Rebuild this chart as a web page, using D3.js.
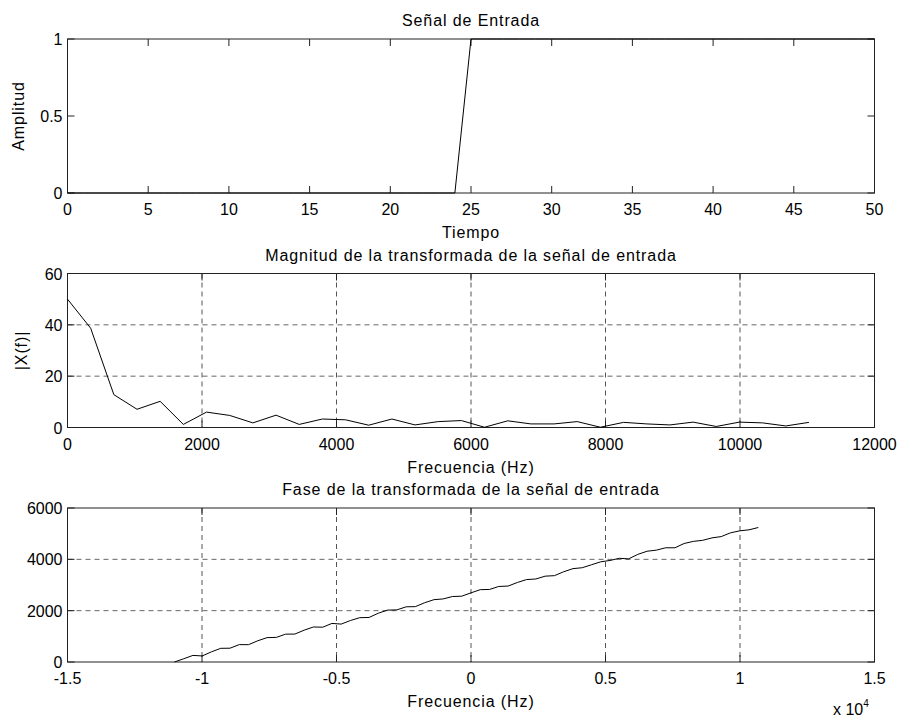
<!DOCTYPE html>
<html><head><meta charset="utf-8">
<script src="https://cdn.jsdelivr.net/npm/d3@7/dist/d3.min.js"></script>
<style>body{margin:0;background:#fff}svg{display:block}text{font-family:"Liberation Sans",Arial,sans-serif;fill:#000}</style>
</head><body><svg id="c" width="902" height="717"></svg>
<script>
// ---- data ----
const tiempo = d3.range(0, 51);
const senal = [0,0,0,0,0,0,0,0,0,0,0,0,0,0,0,0,0,0,0,0,0,0,0,0,0,
  1,1,1,1,1,1,1,1,1,1,1,1,1,1,1,1,1,1,1,1,1,1,1,1,1,1];
const fs = 22050, N = 64;
const freqMag = d3.range(0, N/2 + 1).map(i => i * fs / N);
const magnitud = [50,38.7,12.8,7.1,10.2,1.2,6.0,4.7,1.8,4.8,1.2,3.3,3.0,0.9,3.3,1.0,2.3,2.7,0.1,2.6,1.4,1.4,2.3,0.1,2.0,1.4,1.0,2.1,0.4,2.1,1.8,0.6,2.0];
const freqFase = d3.range(0, N).map(i => -fs/2 + i * fs / N);
const fase = [0,126,257,235,397,533,538,678,675,828,950,959,1085,1089,1241,1364,1356,1503,1477,1618,1727,1735,1901,2022,2030,
  2150,2158,2309,2428,2458,2551,2564,2694,2818,2826,2943,2958,3097,3212,3234,3344,3364,3516,3638,3673,3788,3904,
  3956,4040,4018,4193,4316,4358,4450,4450,4618,4700,4741,4835,4886,5033,5110,5150,5240];

const ticks1x = d3.range(0, 51, 5), ticks1y = [0, 0.5, 1];
const ticks2x = d3.range(0, 12001, 2000), ticks2y = [0, 20, 40, 60];
const ticks3x = [-1.5e4,-1e4,-0.5e4,0,0.5e4,1e4,1.5e4], ticks3y = [0,2000,4000,6000];

// ---- layout ----
const svg = d3.select("#c");
const L = 67.5, R = 874.5, H = 154;
const FS = 16, LS = "0.9px";

function panel(o) {
  const g = svg.append("g");
  const x = d3.scaleLinear().domain(o.xd).range([L, R]);
  const y = d3.scaleLinear().domain(o.yd).range([o.top + H, o.top]);
  const B = o.top + H, T = o.top;
  if (o.grid) {
    g.selectAll(null).data(o.xt.slice(1, -1)).join("line")
      .attr("x1", d => x(d)).attr("x2", d => x(d)).attr("y1", T).attr("y2", B)
      .attr("stroke", "#555").attr("stroke-dasharray", "5,4");
    g.selectAll(null).data(o.yt.slice(1, -1)).join("line")
      .attr("y1", d => y(d)).attr("y2", d => y(d)).attr("x1", L).attr("x2", R)
      .attr("stroke", "#666").attr("stroke-dasharray", "5,4");
  }
  const tl = 7;
  const xt = g.append("g");
  o.xt.forEach(d => {
    xt.append("line").attr("x1", x(d)).attr("x2", x(d)).attr("y1", B).attr("y2", B - tl).attr("stroke", "#222");
    xt.append("line").attr("x1", x(d)).attr("x2", x(d)).attr("y1", T).attr("y2", T + tl).attr("stroke", "#222");
  });
  o.yt.forEach(d => {
    xt.append("line").attr("y1", y(d)).attr("y2", y(d)).attr("x1", L).attr("x2", L + tl).attr("stroke", "#222");
    xt.append("line").attr("y1", y(d)).attr("y2", y(d)).attr("x1", R).attr("x2", R - tl).attr("stroke", "#222");
  });
  g.append("rect").attr("x", L).attr("y", T).attr("width", R - L).attr("height", H)
    .attr("fill", "none").attr("stroke", "#222");
  g.append("path").datum(o.xs.map((v, i) => [v, o.ys[i]]))
    .attr("fill", "none").attr("stroke", "#000").attr("stroke-width", 1)
    .attr("d", d3.line().x(d => x(d[0])).y(d => y(d[1])));
  g.selectAll(null).data(o.xt).join("text")
    .attr("x", d => x(d)).attr("y", B + 22).attr("text-anchor", "middle").attr("font-size", FS)
    .text(d => o.xf ? o.xf(d) : d);
  g.selectAll(null).data(o.yt).join("text")
    .attr("x", L - 5).attr("y", d => y(d) + 6).attr("text-anchor", "end").attr("font-size", FS)
    .text(d => d);
  g.append("text").attr("x", (L + R) / 2).attr("y", T - 13).attr("text-anchor", "middle")
    .attr("font-size", FS).attr("letter-spacing", LS).text(o.title);
  if (o.xlabel) g.append("text").attr("x", (L + R) / 2).attr("y", B + 45).attr("text-anchor", "middle")
    .attr("font-size", FS).attr("letter-spacing", LS).text(o.xlabel);
  if (o.ylabel) g.append("text").attr("transform", `translate(${o.ylx},${(T + B) / 2}) rotate(-90)`)
    .attr("text-anchor", "middle").attr("font-size", FS).attr("letter-spacing", LS).text(o.ylabel);
  return {x, y, B};
}

panel({top: 39, xd: [0, 50], yd: [0, 1], xt: ticks1x, yt: ticks1y, xs: tiempo, ys: senal,
  title: "Señal de Entrada", xlabel: "Tiempo", ylabel: "Amplitud", ylx: 24, grid: false});
panel({top: 273.5, xd: [0, 12000], yd: [0, 60], xt: ticks2x, yt: ticks2y, xs: freqMag, ys: magnitud,
  title: "Magnitud de la transformada de la señal de entrada", xlabel: "Frecuencia (Hz)", ylabel: "|X(f)|", ylx: 27, grid: true});
panel({top: 508, xd: [-1.5e4, 1.5e4], yd: [0, 6000], xt: ticks3x, yt: ticks3y, xs: freqFase, ys: fase,
  title: "Fase de la transformada de la señal de entrada", xlabel: "Frecuencia (Hz)", grid: true,
  xf: d => String(d / 1e4)});
const ex = svg.append("text").attr("x", 833).attr("y", 715).attr("font-size", FS);
ex.append("tspan").text("x 10");
ex.append("tspan").attr("font-size", 10).attr("dy", -8).text("4");
</script></body></html>
